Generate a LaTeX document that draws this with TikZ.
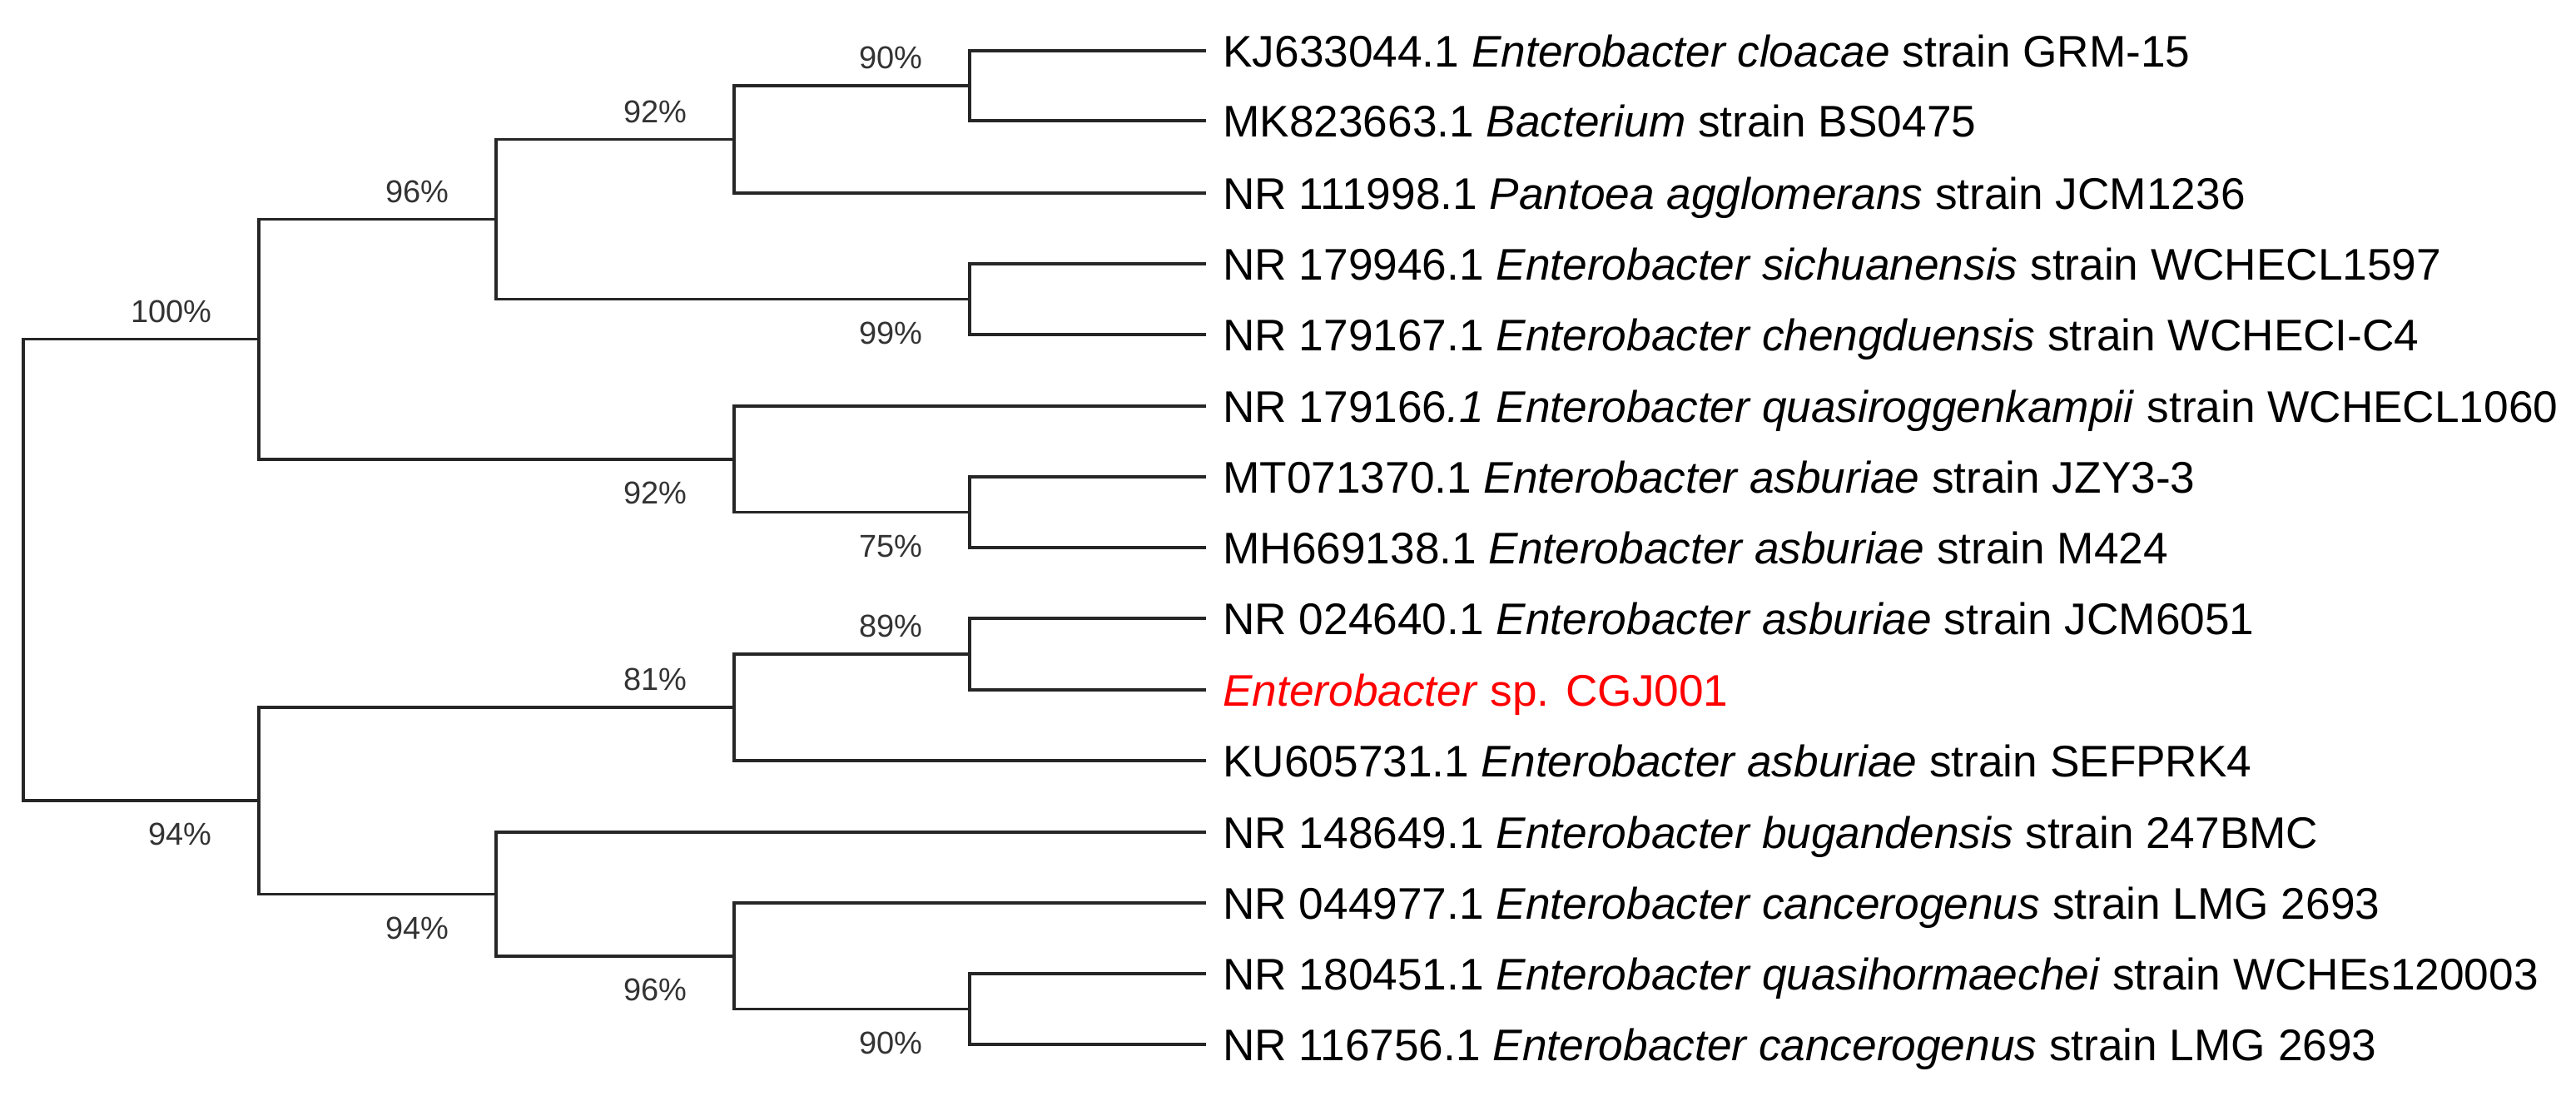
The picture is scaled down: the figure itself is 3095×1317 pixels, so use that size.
\documentclass[tikz,border=0pt]{standalone}
\usepackage{fontspec}
\setmainfont{Liberation Sans}
\usetikzlibrary{calc}
\begin{document}
\begin{tikzpicture}[x=0.5pt,y=-0.5pt,
  branch/.style={draw=black!85,line width=1.8pt,line join=miter},
  leaf/.style={anchor=west,inner xsep=10pt,inner ysep=0pt,text height=19.1pt,text depth=0pt,
    font=\fontsize{26.6}{32}\selectfont,text=black},
  lab/.style={anchor=east,inner sep=0pt,text height=13.6pt,text depth=0pt,
    font=\fontsize{19}{23}\selectfont,text=black!80},
]
\useasboundingbox (0,0) rectangle (3095,1317);
% internal nodes
\coordinate (A) at (1165,103);
\coordinate (B) at (882,167.5);
\coordinate (C) at (1165,359.5);
\coordinate (D) at (596,263.5);
\coordinate (E) at (1165,615.5);
\coordinate (F) at (882,551.75);
\coordinate (G) at (311,407.6);
\coordinate (H) at (1165,786);
\coordinate (I) at (882,850);
\coordinate (J) at (1165,1212.5);
\coordinate (K) at (882,1148.75);
\coordinate (L) at (596,1074.4);
\coordinate (M) at (311,962.2);
\coordinate (R) at (28,684.9);
% leaves
\node[leaf] (l1) at (1449,61) {KJ633044.1 \textit{Enterobacter cloacae} strain GRM-15};
\node[leaf] (l2) at (1449,145) {MK823663.1 \textit{Bacterium} strain BS0475};
\node[leaf] (l3) at (1449,232) {NR 111998.1 \textit{Pantoea agglomerans} strain JCM1236};
\node[leaf] (l4) at (1449,317) {NR 179946.1 \textit{Enterobacter sichuanensis} strain WCHECL1597};
\node[leaf] (l5) at (1449,402) {NR 179167.1 \textit{Enterobacter chengduensis} strain WCHECI-C4};
\node[leaf] (l6) at (1449,488) {NR 179166\textit{.1 Enterobacter quasiroggenkampii} strain WCHECL1060};
\node[leaf] (l7) at (1449,573) {MT071370.1 \textit{Enterobacter asburiae} strain JZY3-3};
\node[leaf] (l8) at (1449,658) {MH669138.1 \textit{Enterobacter asburiae} strain M424};
\node[leaf] (l9) at (1449,743) {NR 024640.1 \textit{Enterobacter asburiae} strain JCM6051};
\node[leaf,text=red] (l10) at (1449,829) {\textit{Enterobacter} sp. CGJ001};
\node[leaf] (l11) at (1449,914) {KU605731.1 \textit{Enterobacter asburiae} strain SEFPRK4};
\node[leaf] (l12) at (1449,1000) {NR 148649.1 \textit{Enterobacter bugandensis} strain 247BMC};
\node[leaf] (l13) at (1449,1085) {NR 044977.1 \textit{Enterobacter cancerogenus} strain LMG 2693};
\node[leaf] (l14) at (1449,1170) {NR 180451.1 \textit{Enterobacter quasihormaechei} strain WCHEs120003};
\node[leaf] (l15) at (1449,1255) {NR 116756.1 \textit{Enterobacter cancerogenus} strain LMG 2693};
% branches
\draw[branch] (A) |- (l1.west);
\draw[branch] (A) |- (l2.west);
\draw[branch] (B) |- (A);
\draw[branch] (B) |- (l3.west);
\draw[branch] (C) |- (l4.west);
\draw[branch] (C) |- (l5.west);
\draw[branch] (D) |- (B);
\draw[branch] (D) |- (C);
\draw[branch] (E) |- (l7.west);
\draw[branch] (E) |- (l8.west);
\draw[branch] (F) |- (l6.west);
\draw[branch] (F) |- (E);
\draw[branch] (G) |- (D);
\draw[branch] (G) |- (F);
\draw[branch] (H) |- (l9.west);
\draw[branch] (H) |- (l10.west);
\draw[branch] (I) |- (H);
\draw[branch] (I) |- (l11.west);
\draw[branch] (J) |- (l14.west);
\draw[branch] (J) |- (l15.west);
\draw[branch] (K) |- (l13.west);
\draw[branch] (K) |- (J);
\draw[branch] (L) |- (l12.west);
\draw[branch] (L) |- (K);
\draw[branch] (M) |- (I);
\draw[branch] (M) |- (L);
\draw[branch] (R) |- (G);
\draw[branch] (R) |- (M);
% bootstrap labels
\node[lab] (bA) at ([shift={(-56,-34)}]A) {90\%};
\node[lab] (bB) at ([shift={(-56,-34)}]B) {92\%};
\node[lab] (bD) at ([shift={(-56,-34)}]D) {96\%};
\node[lab] (bG) at ([shift={(-56,-34)}]G) {100\%};
\node[lab] (bC) at ([shift={(-56,40)}]C) {99\%};
\node[lab] (bF) at ([shift={(-56,40)}]F) {92\%};
\node[lab] (bE) at ([shift={(-56,40)}]E) {75\%};
\node[lab] (bH) at ([shift={(-56,-34)}]H) {89\%};
\node[lab] (bI) at ([shift={(-56,-34)}]I) {81\%};
\node[lab] (bM) at ([shift={(-56,40)}]M) {94\%};
\node[lab] (bL) at ([shift={(-56,40)}]L) {94\%};
\node[lab] (bK) at ([shift={(-56,40)}]K) {96\%};
\node[lab] (bJ) at ([shift={(-56,40)}]J) {90\%};
\end{tikzpicture}
\end{document}
